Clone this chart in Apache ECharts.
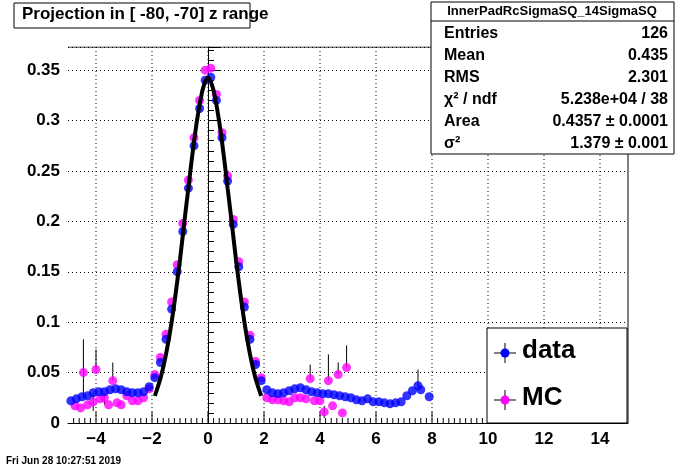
<!DOCTYPE html>
<html><head><meta charset="utf-8">
<script src="https://cdn.jsdelivr.net/npm/echarts@6/dist/echarts.min.js"></script>
<style>html,body{margin:0;padding:0;background:#fff}#c{width:696px;height:471px}</style>
</head><body><div id="c"></div>
<script>
const xTicks = [-4,-2,0,2,4,6,8,10,12,14];
const xMinor = [-4.8,-4.6,-4.4,-4.2,-3.8,-3.6,-3.4,-3.2,-3,-2.8,-2.6,-2.4,-2.2,-1.8,-1.6,-1.4,-1.2,-1,-0.8,-0.6,-0.4,-0.2,0.2,0.4,0.6,0.8,1,1.2,1.4,1.6,1.8,2.2,2.4,2.6,2.8,3,3.2,3.4,3.6,3.8,4.2,4.4,4.6,4.8,5,5.2,5.4,5.6,5.8,6.2,6.4,6.6,6.8,7,7.2,7.4,7.6,7.8,8.2,8.4,8.6,8.8,9,9.2,9.4,9.6,9.8,10.2,10.4,10.6,10.8,11,11.2,11.4,11.6,11.8,12.2,12.4,12.6,12.8,13,13.2,13.4,13.6,13.8,14.2,14.4,14.6,14.8];
const yTicks = [0,0.05,0.1,0.15,0.2,0.25,0.3,0.35];
const dataX = [-4.9,-4.7,-4.5,-4.3,-4.1,-3.9,-3.7,-3.5,-3.3,-3.1,-2.9,-2.7,-2.5,-2.3,-2.1,-1.9,-1.7,-1.5,-1.3,-1.1,-0.9,-0.7,-0.5,-0.3,-0.1,0.1,0.3,0.5,0.7,0.9,1.1,1.3,1.5,1.7,1.9,2.1,2.3,2.5,2.7,2.9,3.1,3.3,3.5,3.7,3.9,4.1,4.3,4.5,4.7,4.9,5.1,5.3,5.5,5.7,5.9,6.1,6.3,6.5,6.7,6.9,7.1,7.3,7.5,7.6,7.9];
const dataY = [0.022,0.024,0.026,0.027,0.030,0.031,0.031,0.033,0.034,0.033,0.031,0.030,0.030,0.031,0.036,0.045,0.060,0.083,0.113,0.150,0.190,0.233,0.275,0.312,0.340,0.343,0.320,0.283,0.240,0.197,0.155,0.115,0.083,0.058,0.042,0.033,0.030,0.029,0.030,0.032,0.034,0.035,0.033,0.031,0.030,0.029,0.029,0.028,0.027,0.026,0.025,0.023,0.022,0.024,0.021,0.021,0.020,0.019,0.020,0.021,0.027,0.032,0.037,0.033,0.026];
const mcX = [-4.75,-4.55,-4.45,-4.3,-4.1,-4.0,-3.85,-3.7,-3.55,-3.4,-3.25,-3.1,-2.9,-2.7,-2.5,-2.3,-2.1,-1.9,-1.7,-1.5,-1.3,-1.1,-0.9,-0.7,-0.5,-0.3,-0.1,0.1,0.3,0.5,0.7,0.9,1.1,1.3,1.5,1.7,1.9,2.1,2.3,2.5,2.7,2.9,3.1,3.3,3.5,3.65,3.8,4.0,4.15,4.3,4.45,4.65,4.8,4.95];
const mcY = [0.017,0.015,0.050,0.018,0.021,0.053,0.024,0.025,0.018,0.042,0.020,0.018,0.027,0.022,0.022,0.025,0.034,0.048,0.065,0.088,0.120,0.157,0.198,0.241,0.283,0.320,0.350,0.352,0.326,0.288,0.245,0.202,0.160,0.120,0.087,0.061,0.045,0.025,0.023,0.023,0.022,0.021,0.025,0.025,0.024,0.044,0.022,0.022,0.011,0.042,0.017,0.048,0.010,0.055];
const fitX = [-1.9,-1.8,-1.7,-1.6,-1.5,-1.4,-1.3,-1.2,-1.1,-1.0,-0.9,-0.8,-0.7,-0.6,-0.5,-0.4,-0.3,-0.2,-0.1,0,0.1,0.2,0.3,0.4,0.5,0.6,0.7,0.8,0.9,1.0,1.1,1.2,1.3,1.4,1.5,1.6,1.7,1.8,1.9];
const fitY = [0.027,0.035,0.044,0.055,0.068,0.083,0.100,0.119,0.140,0.162,0.186,0.210,0.233,0.257,0.279,0.299,0.316,0.330,0.339,0.343,0.339,0.330,0.316,0.299,0.279,0.257,0.233,0.210,0.186,0.162,0.140,0.119,0.100,0.083,0.068,0.055,0.044,0.035,0.027];
const errBars = [[-4.45,0.05,0.083],[-4.0,0.053,0.073],[-3.4,0.042,0.060],[-4.45,0.025,0.050],[3.65,0.044,0.058],[4.3,0.042,0.068],[4.65,0.048,0.060],[4.95,0.055,0.077],[4.15,0.005,0.017],[7.5,0.037,0.053],[-4.1,0.012,0.030],[-3.7,0.018,0.030]];

const chart = echarts.init(document.getElementById('c'));
const F = 'Liberation Sans, Arial, sans-serif';
function errItem(params, api){
  const x=api.value(0), lo=api.coord([x,api.value(1)]), hi=api.coord([x,api.value(2)]);
  return {type:'line',shape:{x1:lo[0],y1:lo[1],x2:hi[0],y2:hi[1]},style:{stroke:'#000',lineWidth:1}};
}
function tickItem(params, api){
  const x=api.value(0), p=api.coord([x,0]);
  return {type:'line',shape:{x1:p[0],y1:p[1],x2:p[0],y2:p[1]-api.value(1)},style:{stroke:'#000',lineWidth:1}};
}
chart.setOption({
  animation:false,
  grid:{left:68,right:68,top:47,bottom:48},
  xAxis:{type:'value',min:-5,max:15,
    axisLine:{show:true,onZero:false,lineStyle:{color:'#000'}},
    axisTick:{show:false},
    splitLine:{show:false},
    axisLabel:{customValues:xTicks,color:'#000',fontFamily:F,fontWeight:'bold',fontSize:17,margin:8,
      formatter:v=>v<0?'\u2212'+(-v):String(v)}},
  yAxis:{type:'value',min:0,max:0.373,interval:0.05,
    axisLine:{show:true,lineStyle:{color:'#000'}},
    axisTick:{inside:true,length:12,lineStyle:{color:'#000'}},
    minorTick:{show:true,splitNumber:5,length:6,lineStyle:{color:'#000'}},
    splitLine:{show:true,lineStyle:{color:'#000',type:[1,3],width:1}},
    axisLabel:{color:'#000',fontFamily:F,fontWeight:'bold',fontSize:17,margin:8,
      formatter:v=>{const t=yTicks.find(a=>Math.abs(a-v)<1e-9);return t===undefined?'':String(t);}}},
  series:[
    {type:'custom',renderItem:tickItem,data:xTicks.map(x=>[x,0.373]).concat([]),z:0,
      renderItem:(p,api)=>{const x=api.value(0),a=api.coord([x,0]),b=api.coord([x,0.373]);
        return {type:'group',children:[
          {type:'line',shape:{x1:a[0],y1:b[1],x2:a[0],y2:a[1]},style:{stroke:'#000',lineWidth:1,lineDash:[1,3]}},
          {type:'line',shape:{x1:a[0],y1:a[1],x2:a[0],y2:a[1]-11},style:{stroke:'#000',lineWidth:1}}]};}},
    {type:'custom',data:xMinor.map(x=>[x,5]),z:0,renderItem:tickItem},
    {type:'custom',renderItem:errItem,data:errBars,z:1},
    {type:'scatter',data:mcX.map((x,i)=>[x,mcY[i]]),symbolSize:9,itemStyle:{color:'#ff00ff'},z:2},
    {type:'scatter',data:dataX.map((x,i)=>[x,dataY[i]]),symbolSize:9,itemStyle:{color:'#0000ff'},z:3},
    {type:'line',data:fitX.map((x,i)=>[x,fitY[i]]),showSymbol:false,lineStyle:{color:'#000',width:4},z:4},
    {type:'line',data:[[-5,0.373],[15,0.373]],showSymbol:false,lineStyle:{color:'#000',width:1},silent:true},
    {type:'line',data:[[15,0],[15,0.373]],showSymbol:false,lineStyle:{color:'#000',width:1},silent:true}
  ],
  graphic:[
    {type:'rect',shape:{x:14,y:3,width:236,height:25},style:{fill:'#fff',stroke:'#000',lineWidth:1},z:10},
    {type:'text',left:22,top:6,style:{text:'Projection in [ -80, -70] z range',font:'bold 17px '+F,fill:'#000'},z:11},
    {type:'rect',shape:{x:431,y:2,width:243,height:152},style:{fill:'#fff',stroke:'#000',lineWidth:1},z:10},
    {type:'line',shape:{x1:431,y1:21,x2:674,y2:21},style:{stroke:'#000'},z:11},
    {type:'text',x:552,y:5,style:{text:'InnerPadRcSigmaSQ_14SigmaSQ',font:'bold 13px '+F,fill:'#000',align:'center'},z:11},
    ...[['Entries','126'],['Mean','0.435'],['RMS','2.301'],['\u03c7\u00b2 / ndf','5.238e+04 / 38'],['Area','0.4357 \u00b1 0.0001'],['\u03c3\u00b2','1.379 \u00b1 0.001']].flatMap((r,i)=>[
      {type:'text',x:444,y:26+i*22,style:{text:r[0],font:'bold 16px '+F,fill:'#000'},z:11},
      {type:'text',x:668,y:26+i*22,style:{text:r[1],font:'bold 16px '+F,fill:'#000',align:'right'},z:11}]),
    {type:'rect',shape:{x:487,y:328,width:140,height:95},style:{fill:'#fff',stroke:'#000',lineWidth:1},z:10},
    {type:'line',shape:{x1:494,y1:353,x2:516,y2:353},style:{stroke:'#000'},z:11},
    {type:'line',shape:{x1:505,y1:343,x2:505,y2:363},style:{stroke:'#000'},z:11},
    {type:'circle',shape:{cx:505,cy:353,r:4.5},style:{fill:'#0000ff'},z:12},
    {type:'text',x:522,y:338,style:{text:'data',font:'bold 26px '+F,fill:'#000'},z:11},
    {type:'line',shape:{x1:494,y1:400,x2:516,y2:400},style:{stroke:'#000'},z:11},
    {type:'line',shape:{x1:505,y1:390,x2:505,y2:410},style:{stroke:'#000'},z:11},
    {type:'circle',shape:{cx:505,cy:400,r:4.5},style:{fill:'#ff00ff'},z:12},
    {type:'text',x:522,y:385,style:{text:'MC',font:'bold 26px '+F,fill:'#000'},z:11},
    {type:'text',x:6,y:456,style:{text:'Fri Jun 28 10:27:51 2019',font:'bold 10px '+F,fill:'#000'},z:11}
  ]
});
</script></body></html>
